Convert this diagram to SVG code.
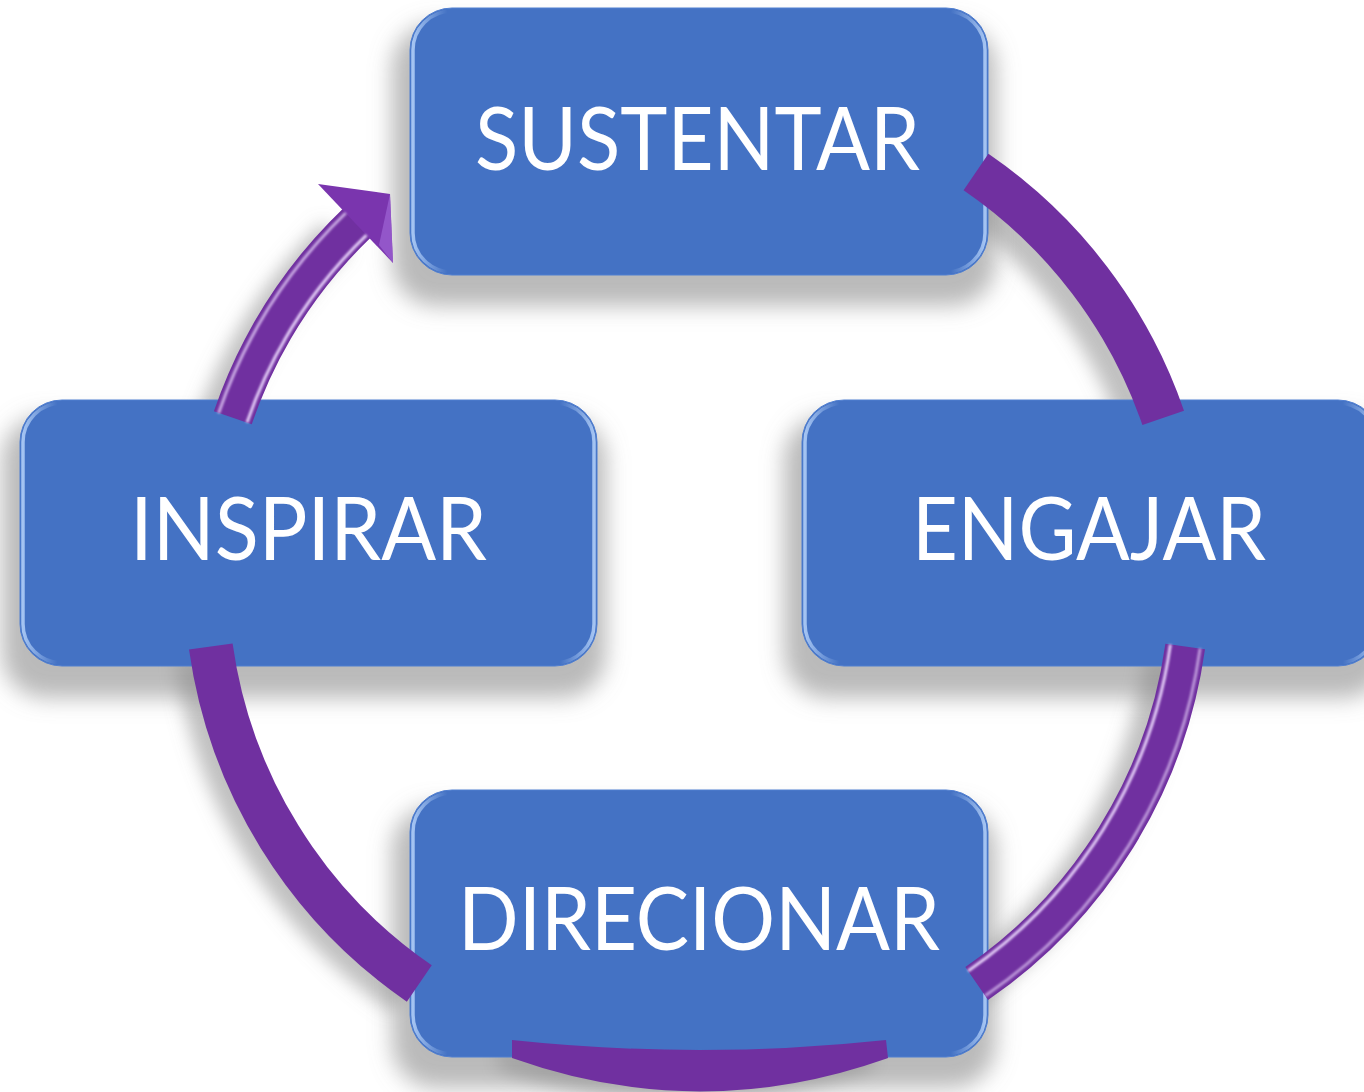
<svg xmlns="http://www.w3.org/2000/svg" width="1364" height="1092" viewBox="0 0 1364 1092">
<defs>
<filter id="boxShadow" x="-20%" y="-20%" width="140%" height="150%">
<feGaussianBlur stdDeviation="11"/>
</filter>
<filter id="arcShadow" x="-30%" y="-30%" width="160%" height="160%">
<feGaussianBlur stdDeviation="9"/>
</filter>
<filter id="soft" x="-10%" y="-10%" width="120%" height="120%">
<feGaussianBlur stdDeviation="0.9"/>
</filter>
<linearGradient id="bevelGrad" x1="0" y1="0" x2="1" y2="0">
<stop offset="0" stop-color="#B5D2FA" stop-opacity="1"/>
<stop offset="0.06" stop-color="#B5D2FA" stop-opacity="0"/>
<stop offset="0.94" stop-color="#B5D2FA" stop-opacity="0"/>
<stop offset="1" stop-color="#B5D2FA" stop-opacity="1"/>
</linearGradient>
<style>
.box{fill:#4472C4;stroke:#4F7ED0;stroke-width:1}
.bevel{fill:none;stroke:url(#bevelGrad);stroke-width:3.5;opacity:0.85}
.shadow{fill:#8c8c8c;opacity:0.6}
.lbl{font-family:Lato,"Open Sans","Liberation Sans",sans-serif;font-size:88px;fill:#FFFFFF}
.arc{fill:none;stroke:#7030A0;stroke-width:44}
.arcsh{fill:none;stroke:#8c8c8c;stroke-width:40;opacity:0.55}
.gloss{fill:none;stroke:#EEDCFF;stroke-width:3;opacity:0.9}
</style>
</defs>
<rect width="1364" height="1092" fill="#FFFFFF"/>

<g id="connector-shadows" filter="url(#arcShadow)">
<path class="arcsh" d="M 973.1 170.1 A 492 492 0 0 1 1163.2 417.8" transform="translate(-20,14)"/>
<path class="arcsh" d="M 1185.2 646.5 A 492 492 0 0 1 976.7 983.5" transform="translate(-20,12)"/>
<path class="arcsh" d="M 419.3 983.5 A 492 492 0 0 1 210.8 646.5" transform="translate(-16,12)"/>
<path class="arcsh" d="M 232.8 417.8 A 492 492 0 0 1 356.2 224.1" transform="translate(-20,12)" style="stroke-width:38"/>
<path d="M 512 1040 Q 700 1060 886 1040 L 888 1058 Q 700 1125 512 1058 Z" fill="#8c8c8c" opacity="0.55" transform="translate(-14,10)"/>
</g>

<g id="box-shadows" filter="url(#boxShadow)">
<rect class="shadow" x="392" y="24" width="604" height="282" rx="44"/>
<rect class="shadow" x="2" y="416" width="604" height="282" rx="44"/>
<rect class="shadow" x="784" y="416" width="604" height="282" rx="44"/>
<rect class="shadow" x="392" y="806" width="604" height="282" rx="44"/>
</g>

<g id="node-sustentar">
<rect class="box" x="410" y="8" width="578" height="267" rx="42"/>
<rect class="bevel" x="413" y="11" width="572" height="261" rx="39"/>
<text class="lbl" x="475" y="170" textLength="445" lengthAdjust="spacingAndGlyphs">SUSTENTAR</text>
</g>
<g id="node-inspirar">
<rect class="box" x="20" y="400" width="577" height="266" rx="42"/>
<rect class="bevel" x="23" y="403" width="571" height="260" rx="39"/>
<text class="lbl" x="130" y="560" textLength="357" lengthAdjust="spacingAndGlyphs">INSPIRAR</text>
</g>
<g id="node-engajar">
<rect class="box" x="802" y="400" width="578" height="266" rx="42"/>
<rect class="bevel" x="805" y="403" width="572" height="260" rx="39"/>
<text class="lbl" x="912" y="560" textLength="354" lengthAdjust="spacingAndGlyphs">ENGAJAR</text>
</g>
<g id="node-direcionar">
<rect class="box" x="410" y="790" width="578" height="267" rx="42"/>
<rect class="bevel" x="413" y="793" width="572" height="261" rx="39"/>
<text class="lbl" x="458" y="950" textLength="482" lengthAdjust="spacingAndGlyphs">DIRECIONAR</text>
</g>

<g id="connectors">
<path class="arc" d="M 976 172 A 492 492 0 0 1 1163.2 417.8"/>
<path class="arc" d="M 1185.2 646.5 A 492 492 0 0 1 976.7 983.5" style="stroke-width:40"/>
<g filter="url(#soft)">
<path class="gloss" d="M 1170.4 644.5 A 477 477 0 0 1 968.1 970.9"/>
<path class="gloss" d="M 1200.1 648.4 A 507 507 0 0 1 985.2 995.8" style="opacity:0.6"/>
</g>
<path d="M 512 1040 Q 700 1060 886 1040 L 888 1058 Q 700 1125 512 1058 Z" fill="#7030A0"/>
<path class="arc" d="M 419.3 983.5 A 492 492 0 0 1 210.8 646.5"/>
<path class="arc" d="M 232.8 417.8 A 492 492 0 0 1 358 222" style="stroke-width:40"/>
<polygon points="318,184 390,194 393,263" fill="#7A35AE"/>
<polygon points="390,194 393,263 379,245" fill="#9A5FD0" opacity="0.8"/>
<g filter="url(#soft)">
<path class="gloss" d="M 247.0 422.4 A 477 477 0 0 1 366.5 235.2"/>
<path class="gloss" d="M 218.6 413.3 A 507 507 0 0 1 345.8 213.0" style="opacity:0.7"/>
</g>
</g>
</svg>
